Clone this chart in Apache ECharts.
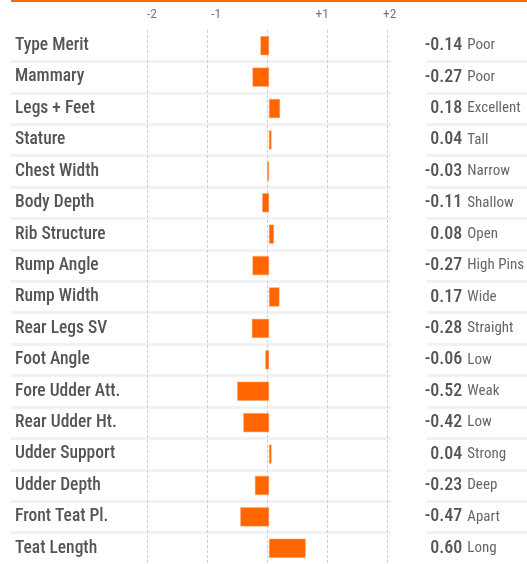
<!DOCTYPE html>
<html>
<head>
<meta charset="utf-8">
<script src="https://cdn.jsdelivr.net/npm/echarts@6/dist/echarts.min.js"></script>
<style>html,body{margin:0;padding:0;background:#fff}#c{width:527px;height:564px}</style>
</head>
<body>
<div id="c"></div>
<script>
const traits = ["Type Merit","Mammary","Legs + Feet","Stature","Chest Width","Body Depth","Rib Structure","Rump Angle","Rump Width","Rear Legs SV","Foot Angle","Fore Udder Att.","Rear Udder Ht.","Udder Support","Udder Depth","Front Teat Pl.","Teat Length"];
const values = [-0.14,-0.27,0.18,0.04,-0.03,-0.11,0.08,-0.27,0.17,-0.28,-0.06,-0.52,-0.42,0.04,-0.23,-0.47,0.60];
const descriptors = ["Poor","Poor","Excellent","Tall","Narrow","Shallow","Open","High Pins","Wide","Straight","Low","Weak","Low","Strong","Deep","Apart","Long"];
const tickValues = [-2,-1,0,1,2];
const tickLabels = {"-2":"{l|-2}","-1":"{m|-1}","0":"","1":"{p|+1}","2":"{q|+2}"};

const FONT = '"Roboto Condensed","Open Sans Condensed",sans-serif';
const chart = echarts.init(document.getElementById('c'), null, {renderer:'canvas'});
const valueLabels = values.map(v => v.toFixed(2));
const sep = {show:true, showMinLine:false, showMaxLine:false, lineStyle:{color:'#f2f2f2', width:3}};
const tickFont = {fontFamily:FONT, fontSize:13.5, color:'#777'};

chart.setOption({
  animation:false,
  graphic:[{type:'rect', left:11, top:0, shape:{width:516, height:2}, style:{fill:'#ff6600'}}],
  grid:[
    {left:11, top:30, width:380, height:536.5},
    {left:147, top:30, width:244, height:536.5},
    {left:427, top:30, width:100, height:536.5}
  ],
  xAxis:[
    {gridIndex:0, type:'value', min:-4.23, max:2, show:false},
    {gridIndex:1, type:'value', min:-2, max:2, interval:1, position:'top',
     axisLine:{show:false}, axisTick:{show:false},
     axisLabel:{margin:8, formatter:v => tickLabels[String(v)],
       rich:{
         l:Object.assign({padding:[0,0,0,10]}, tickFont),
         m:Object.assign({padding:[0,0,0,18]}, tickFont),
         p:Object.assign({padding:[0,10,0,0]}, tickFont),
         q:Object.assign({padding:[0,0,0,5]}, tickFont)
       }},
     splitLine:{show:true, lineStyle:{type:[3,2], color:'#cfcfcf', width:1}}},
    {gridIndex:2, type:'value', min:0, max:1, show:false}
  ],
  yAxis:[
    {gridIndex:0, type:'category', data:traits, inverse:true,
     axisLine:{show:false}, axisTick:{show:false}, axisLabel:{show:false}, splitLine:sep},
    {gridIndex:1, type:'category', data:traits, inverse:true, position:'left',
     axisLine:{show:false}, axisTick:{show:false},
     axisLabel:{align:'left', margin:132, padding:[4,0,0,0], fontFamily:FONT, fontWeight:500, fontSize:17.5, color:'#555'}},
    {gridIndex:1, type:'category', data:valueLabels, inverse:true, position:'right',
     axisLine:{show:false}, axisTick:{show:false},
     axisLabel:{align:'right', margin:75, padding:[4,0,0,0], fontFamily:FONT, fontWeight:500, fontSize:18, color:'#555'}},
    {gridIndex:1, type:'category', data:descriptors, inverse:true, position:'right',
     axisLine:{show:false}, axisTick:{show:false},
     axisLabel:{align:'left', margin:80, padding:[4,0,0,0], fontFamily:FONT, fontSize:15, color:'#666'}},
    {gridIndex:2, type:'category', data:traits, inverse:true,
     axisLine:{show:false}, axisTick:{show:false}, axisLabel:{show:false}, splitLine:sep}
  ],
  series:[{
    type:'bar', xAxisIndex:0, yAxisIndex:0, data:values, barWidth:19,
    itemStyle:{color:'#ff6600', borderColor:'#ff9a5c', borderWidth:0.5}
  }]
});
</script>
</body>
</html>
